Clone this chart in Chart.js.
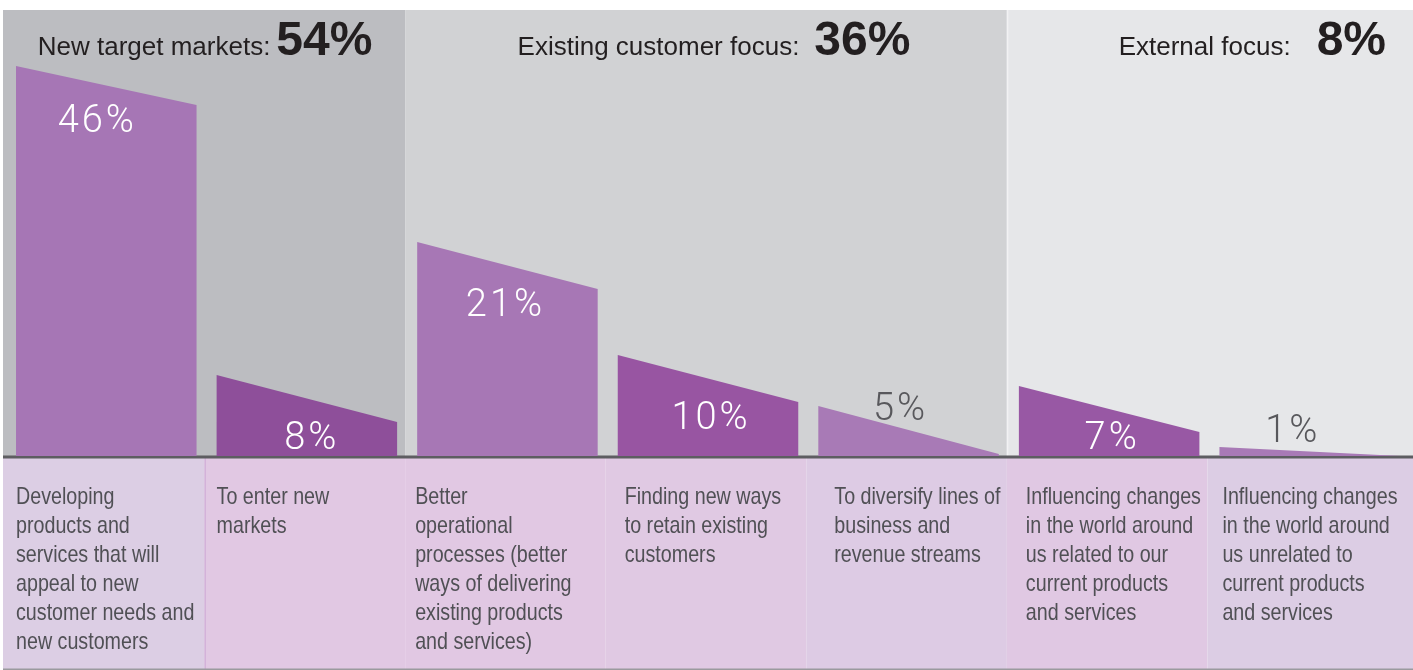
<!DOCTYPE html>
<html>
<head>
<meta charset="utf-8">
<script src="https://cdn.jsdelivr.net/npm/chart.js@4.4.1/dist/chart.umd.min.js"></script>
<style>
  html, body { margin: 0; padding: 0; background: #fff; }
  canvas { display: block; }
</style>
</head>
<body>
<canvas id="chart_focus" width="1413" height="670"></canvas>
<script>
// categories, wrapped the way the picture wraps them
const categories = [
  ["Developing", "products and", "services that will", "appeal to new", "customer needs and", "new customers"],
  ["To enter new", "markets"],
  ["Better", "operational", "processes (better", "ways of delivering", "existing products", "and services)"],
  ["Finding new ways", "to retain existing", "customers"],
  ["To diversify lines of", "business and", "revenue streams"],
  ["Influencing changes", "in the world around", "us related to our", "current products", "and services"],
  ["Influencing changes", "in the world around", "us unrelated to", "current products", "and services"]
];
const shares = [46, 8, 21, 10, 5, 7, 1];
// height of each slanted bar at its left and right edge (drawing units)
const leftEdge = [39.0, 8.1, 21.4, 10.1, 5.0, 7.0, 0.9];
const rightEdge = [35.1, 3.4, 16.7, 5.4, 0.2, 2.4, 0.0];

const groupNames = ["New target markets:", "Existing customer focus:", "External focus:"];
const groupShares = [54, 36, 8];
const groupFirst = [0, 2, 5];
const groupLast = [1, 4, 6];

// styles
const barColors = ['#a676b5', '#8e4f9a', '#a777b5', '#9855a2', '#a87ab6', '#9858a4', '#a87ab6'];
const panelColors = ['#bcbdc1', '#d1d2d4', '#e6e7e9'];
const bandColors = ['#dccee4', '#e1c8e3', '#e1c8e3', '#e0c9e3', '#ddcbe4', '#e0c8e3', '#dccde4'];
const textIndent = [10, 10, 8, 17, 26, 17, 13];
const labelShift = [-9, 5, -2, 3, -8, 3, -17];
const headerGap = [6, 15, 26];
const narrow = 0.82;

const panelsAndLabels = {
  id: 'panelsAndLabels',
  beforeDraw(chart) {
    const ctx = chart.ctx;
    const a = chart.chartArea;
    const x = chart.scales.x;
    const W = chart.width, H = chart.height;
    const slot = x.getPixelForValue(1) - x.getPixelForValue(0);
    const edge = i => x.getPixelForValue(i) - slot / 2;

    ctx.save();
    ctx.fillStyle = '#fff';
    ctx.fillRect(0, 0, W, H);

    groupNames.forEach((g, k) => {
      const x0 = k === 0 ? 3 : edge(groupFirst[k]) - 2;
      const x1 = k === groupNames.length - 1 ? W : edge(groupLast[k] + 1) - 2;
      ctx.fillStyle = panelColors[k];
      ctx.fillRect(x0, a.top, x1 - x0, a.bottom - a.top);
    });
    // thin light line between the 2nd and 3rd panel
    ctx.fillStyle = '#f2f2f3';
    ctx.fillRect(edge(groupFirst[2]) - 2, a.top, 1.5, a.bottom - a.top);

    categories.forEach((c, i) => {
      const x0 = i === 0 ? 3 : edge(i) - 2;
      const x1 = i === categories.length - 1 ? W : edge(i + 1) - 2;
      ctx.fillStyle = bandColors[i];
      ctx.fillRect(x0, a.bottom, x1 - x0, H - a.bottom);
    });
    ctx.fillStyle = '#c9a2d1';
    ctx.fillRect(edge(1) - 2, a.bottom, 1, H - a.bottom);

    ctx.fillStyle = '#5d5d61';
    ctx.fillRect(3, a.bottom - 0.5, W - 3, 3);
    ctx.fillStyle = '#9a9a9e';
    ctx.fillRect(3, H - 1.5, W - 3, 1.5);
    ctx.restore();
  },
  beforeDatasetsDraw(chart) {
    const ctx = chart.ctx;
    const y = chart.scales.y;
    const meta = chart.getDatasetMeta(0);
    ctx.save();
    meta.data.forEach((el, i) => {
      const p = el.getProps(['x', 'width', 'base'], true);
      const l = p.x - p.width / 2, r = p.x + p.width / 2;
      ctx.beginPath();
      ctx.moveTo(l, p.base);
      ctx.lineTo(l, y.getPixelForValue(leftEdge[i]));
      ctx.lineTo(r, y.getPixelForValue(rightEdge[i]));
      ctx.lineTo(r, p.base);
      ctx.closePath();
      ctx.fillStyle = barColors[i];
      ctx.fill();
    });
    ctx.restore();
    return false;
  },
  afterDraw(chart) {
    const ctx = chart.ctx;
    const a = chart.chartArea;
    const x = chart.scales.x;
    const y = chart.scales.y;
    const W = chart.width;
    const slot = x.getPixelForValue(1) - x.getPixelForValue(0);
    const edge = i => x.getPixelForValue(i) - slot / 2;
    const meta = chart.getDatasetMeta(0);

    ctx.save();
    // group headers
    ctx.textBaseline = 'alphabetic';
    ctx.textAlign = 'left';
    groupNames.forEach((g, k) => {
      const nameFont = '26px "Liberation Sans", Arial, sans-serif';
      const numFont = 'bold 48px "Liberation Sans", Arial, sans-serif';
      const num = groupShares[k] + '%';
      ctx.font = nameFont;
      const nw = ctx.measureText(g).width;
      ctx.font = numFont;
      const vw = ctx.measureText(num).width;
      const total = nw + headerGap[k] + vw;
      const x0 = k === 0 ? 3 : edge(groupFirst[k]);
      const x1 = k === groupNames.length - 1 ? W : edge(groupLast[k] + 1);
      const start = k === groupNames.length - 1 ? W - 27 - total : (x0 + x1) / 2 - total / 2 + (k === 1 ? 6 : 0);
      ctx.fillStyle = '#231f20';
      ctx.font = nameFont;
      ctx.fillText(g, start, 55);
      ctx.font = numFont;
      ctx.fillText(num, start + nw + headerGap[k], 55);
    });

    // value labels on the bars
    ctx.textAlign = 'center';
    ctx.font = '300 38px Roboto, "Liberation Sans", sans-serif';
    ctx.letterSpacing = '3px';
    meta.data.forEach((el, i) => {
      const p = el.getProps(['x', 'base'], true);
      const yl = y.getPixelForValue(leftEdge[i]);
      const yr = y.getPixelForValue(rightEdge[i]);
      const inside = p.base - yl > 60;
      let by;
      if (inside) {
        by = Math.min(yr + 27, p.base - 7);
        ctx.fillStyle = '#ffffff';
      } else {
        by = (yl + yr) / 2 - 10;
        ctx.fillStyle = '#58585c';
      }
      ctx.fillText(shares[i] + '%', p.x + labelShift[i], by);
    });
    ctx.letterSpacing = '0px';

    // category texts in the band, narrowed like a condensed face
    ctx.textAlign = 'left';
    ctx.fillStyle = '#505055';
    ctx.font = '24px "Liberation Sans", Arial, sans-serif';
    categories.forEach((lines, i) => {
      lines.forEach((t, j) => {
        ctx.save();
        ctx.translate(edge(i) + textIndent[i], a.bottom + 48 + j * 29);
        ctx.scale(narrow, 1);
        ctx.fillText(t, 0, 0);
        ctx.restore();
      });
    });
    ctx.restore();
  }
};

new Chart(document.getElementById('chart_focus'), {
  type: 'bar',
  data: {
    labels: categories,
    datasets: [{
      data: leftEdge,
      backgroundColor: barColors,
      barPercentage: 0.9,
      categoryPercentage: 1.0
    }]
  },
  options: {
    responsive: false,
    animation: false,
    layout: { padding: { left: 6, right: 3, top: 10, bottom: 214 } },
    scales: {
      x: { display: false },
      y: { display: false, min: 0, max: 44.6 }
    },
    plugins: {
      legend: { display: false },
      tooltip: { enabled: false }
    }
  },
  plugins: [panelsAndLabels]
});
</script>
</body>
</html>
